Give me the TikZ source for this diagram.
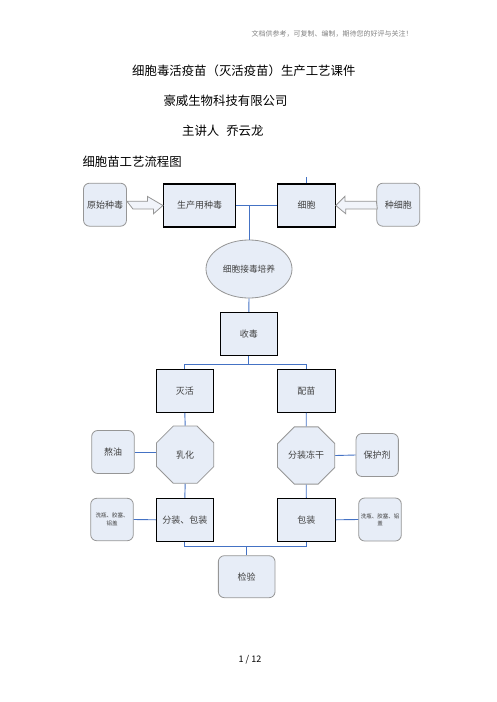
\documentclass[tikz,border=0pt]{standalone}
\usepackage{fontspec}
\newfontfamily\cjk{Noto Sans CJK SC}
\usetikzlibrary{shapes.geometric}
\definecolor{boxfill}{RGB}{231,237,247}
\definecolor{boxedge}{RGB}{150,150,150}
\definecolor{boxtext}{RGB}{64,64,64}
\definecolor{linkblue}{RGB}{68,114,196}
\definecolor{headgrey}{RGB}{130,130,130}

\begin{document}
\begin{tikzpicture}[x=1pt, y=-1pt,
    every node/.style={font=\cjk, inner sep=1pt},
    box/.style={rectangle, draw=black, line width=1.1pt, fill=boxfill, minimum width=57pt, minimum height=43pt, text=boxtext, font=\cjk\fontsize{9pt}{11pt}\selectfont},
    rbox/.style={rectangle, rounded corners=6pt, draw=boxedge, line width=0.8pt, fill=boxfill, minimum width=43pt, minimum height=43pt, text=boxtext, font=\cjk\fontsize{9pt}{11pt}\selectfont},
    oval/.style={ellipse, draw=boxedge, line width=0.8pt, fill=boxfill, minimum width=86pt, minimum height=58pt, text=boxtext, font=\cjk\fontsize{8.7pt}{11pt}\selectfont},
    octa/.style={regular polygon, regular polygon sides=8, minimum size=62pt, draw=boxedge, line width=0.8pt, fill=boxfill, text=boxtext, font=\cjk\fontsize{9pt}{11pt}\selectfont},
    title/.style={font=\cjk\fontsize{12.4pt}{14pt}\selectfont},
    tiny/.style={align=center, font=\cjk\fontsize{5.5pt}{7.3pt}\selectfont},
    link/.style={draw=linkblue, line width=0.9pt},
    hollow/.style={draw=boxedge, fill=boxfill!60, line width=0.8pt, line join=miter}
]
\useasboundingbox (0,0) rectangle (496,702);

% Page header and titles
\node[font=\cjk\fontsize{7pt}{8pt}\selectfont, text=headgrey] (header) at (332,34.3) {文档供参考，可复制、编制，期待您的好评与关注！};
\node[title] (course) at (243.8,71) {细胞毒活疫苗（灭活疫苗）生产工艺课件};
\node[title] (company) at (225.5,100.7) {豪威生物科技有限公司};
\node[title] (speaker) at (222.8,131) {主讲人\hspace{7pt}乔云龙};
\node[title, anchor=west, inner sep=0pt] (flowtitle) at (82.3,161.3) {细胞苗工艺流程图};

% Top row - seed virus and cells
\node[rbox] (seedorig) at (105,204.7) {原始种毒};
\node[box, minimum width=72pt] (seedprod) at (199.5,205.5) {生产用种毒};
\node[box, minimum width=57.5pt] (cell) at (306.5,205.5) {细胞};
\node[rbox] (seedcell) at (398.3,204.7) {种细胞};

% Middle column
\node[oval] (culture) at (249,269) {细胞接毒培养};
\node[box] (harvest) at (248.8,333.8) {收毒};

% Left branch - inactivated vaccine
\node[box] (inact) at (184.8,390.8) {灭活};
\node[octa] (emuls) at (185.2,454.7) {乳化};
\node[rbox, minimum width=42.6pt] (oil) at (113,452) {熬油};
\node[box] (fillpack) at (184.8,519.8) {分装、包装};
\node[rbox, minimum width=42.6pt, minimum height=42.4pt] (bottleL) at (112,519.5) {};
\node[tiny, text=boxtext] (bottleLtxt) at (bottleL) {洗瓶、胶塞、\\铝盖};

% Right branch - freeze-dried vaccine
\node[box, minimum width=58pt] (mix) at (306.3,390.8) {配苗};
\node[octa] (freeze) at (306.2,455.5) {分装冻干};
\node[rbox, minimum width=42.3pt] (protect) at (377.2,455) {保护剂};
\node[box, minimum width=58pt] (pack) at (306.3,519.8) {包装};
\node[rbox, minimum width=42.6pt] (bottleR) at (380,519.5) {};
\node[tiny, text=boxtext] (bottleRtxt) at (bottleR) {洗瓶、胶塞、铝\\盖};

% Final check
\node[rbox, minimum width=56.7pt, minimum height=42pt] (check) at (246.7,576.7) {检验};

% Page number
\node[font=\cjk\fontsize{9pt}{11pt}\selectfont] (pageno) at (250,660) {1 / 12};

% Hollow arrows into the top row
\draw[hollow] (seedorig.east) ++(0,-3.5) -- ++(20.5,0) -- ++(0,-4.8) -- (seedprod.west) -- ++(-9.5,8.3) -- ++(0,-4.8) -- ++(-20.5,0) -- cycle;
\draw[hollow] (seedcell.west) ++(0,-3.5) -- ++(-31.5,0) -- ++(0,-4.8) -- (cell.east) -- ++(10,8.3) -- ++(0,-4.8) -- ++(31.5,0) -- cycle;

% Blue connectors - top part
\draw[link] (cell.north) -- ++(0,-6.5);
\draw[link] (seedprod.east) -- (cell.west);
\draw[link] (culture.north) -- (culture.north |- seedprod.east);
\draw[link] (culture.south) -- (harvest.north);
\draw[link] (harvest.south) -- ++(0,8.5) -| (inact.north);
\draw[link] (harvest.south) ++(0,8.5) -| (mix.north);

% Blue connectors - branches
\draw[link] (inact.south) -- (emuls.north);
\draw[link] (mix.south) -- (freeze.north);
\draw[link] (oil.east) -- (oil.east -| emuls.west);
\draw[link] (freeze.east) -- (protect.west);
\draw[link] (emuls.south) -- (fillpack.north);
\draw[link] (freeze.south) -- (pack.north);
\draw[link] (bottleL.east) -- (fillpack.west);
\draw[link] (pack.east) -- (bottleR.west);

% Merge into check
\draw[link] (fillpack.south) -- ++(0,5) -| (pack.south);
\draw[link] (check.north) -- ++(0,-9.5);

\end{tikzpicture}
\end{document}
